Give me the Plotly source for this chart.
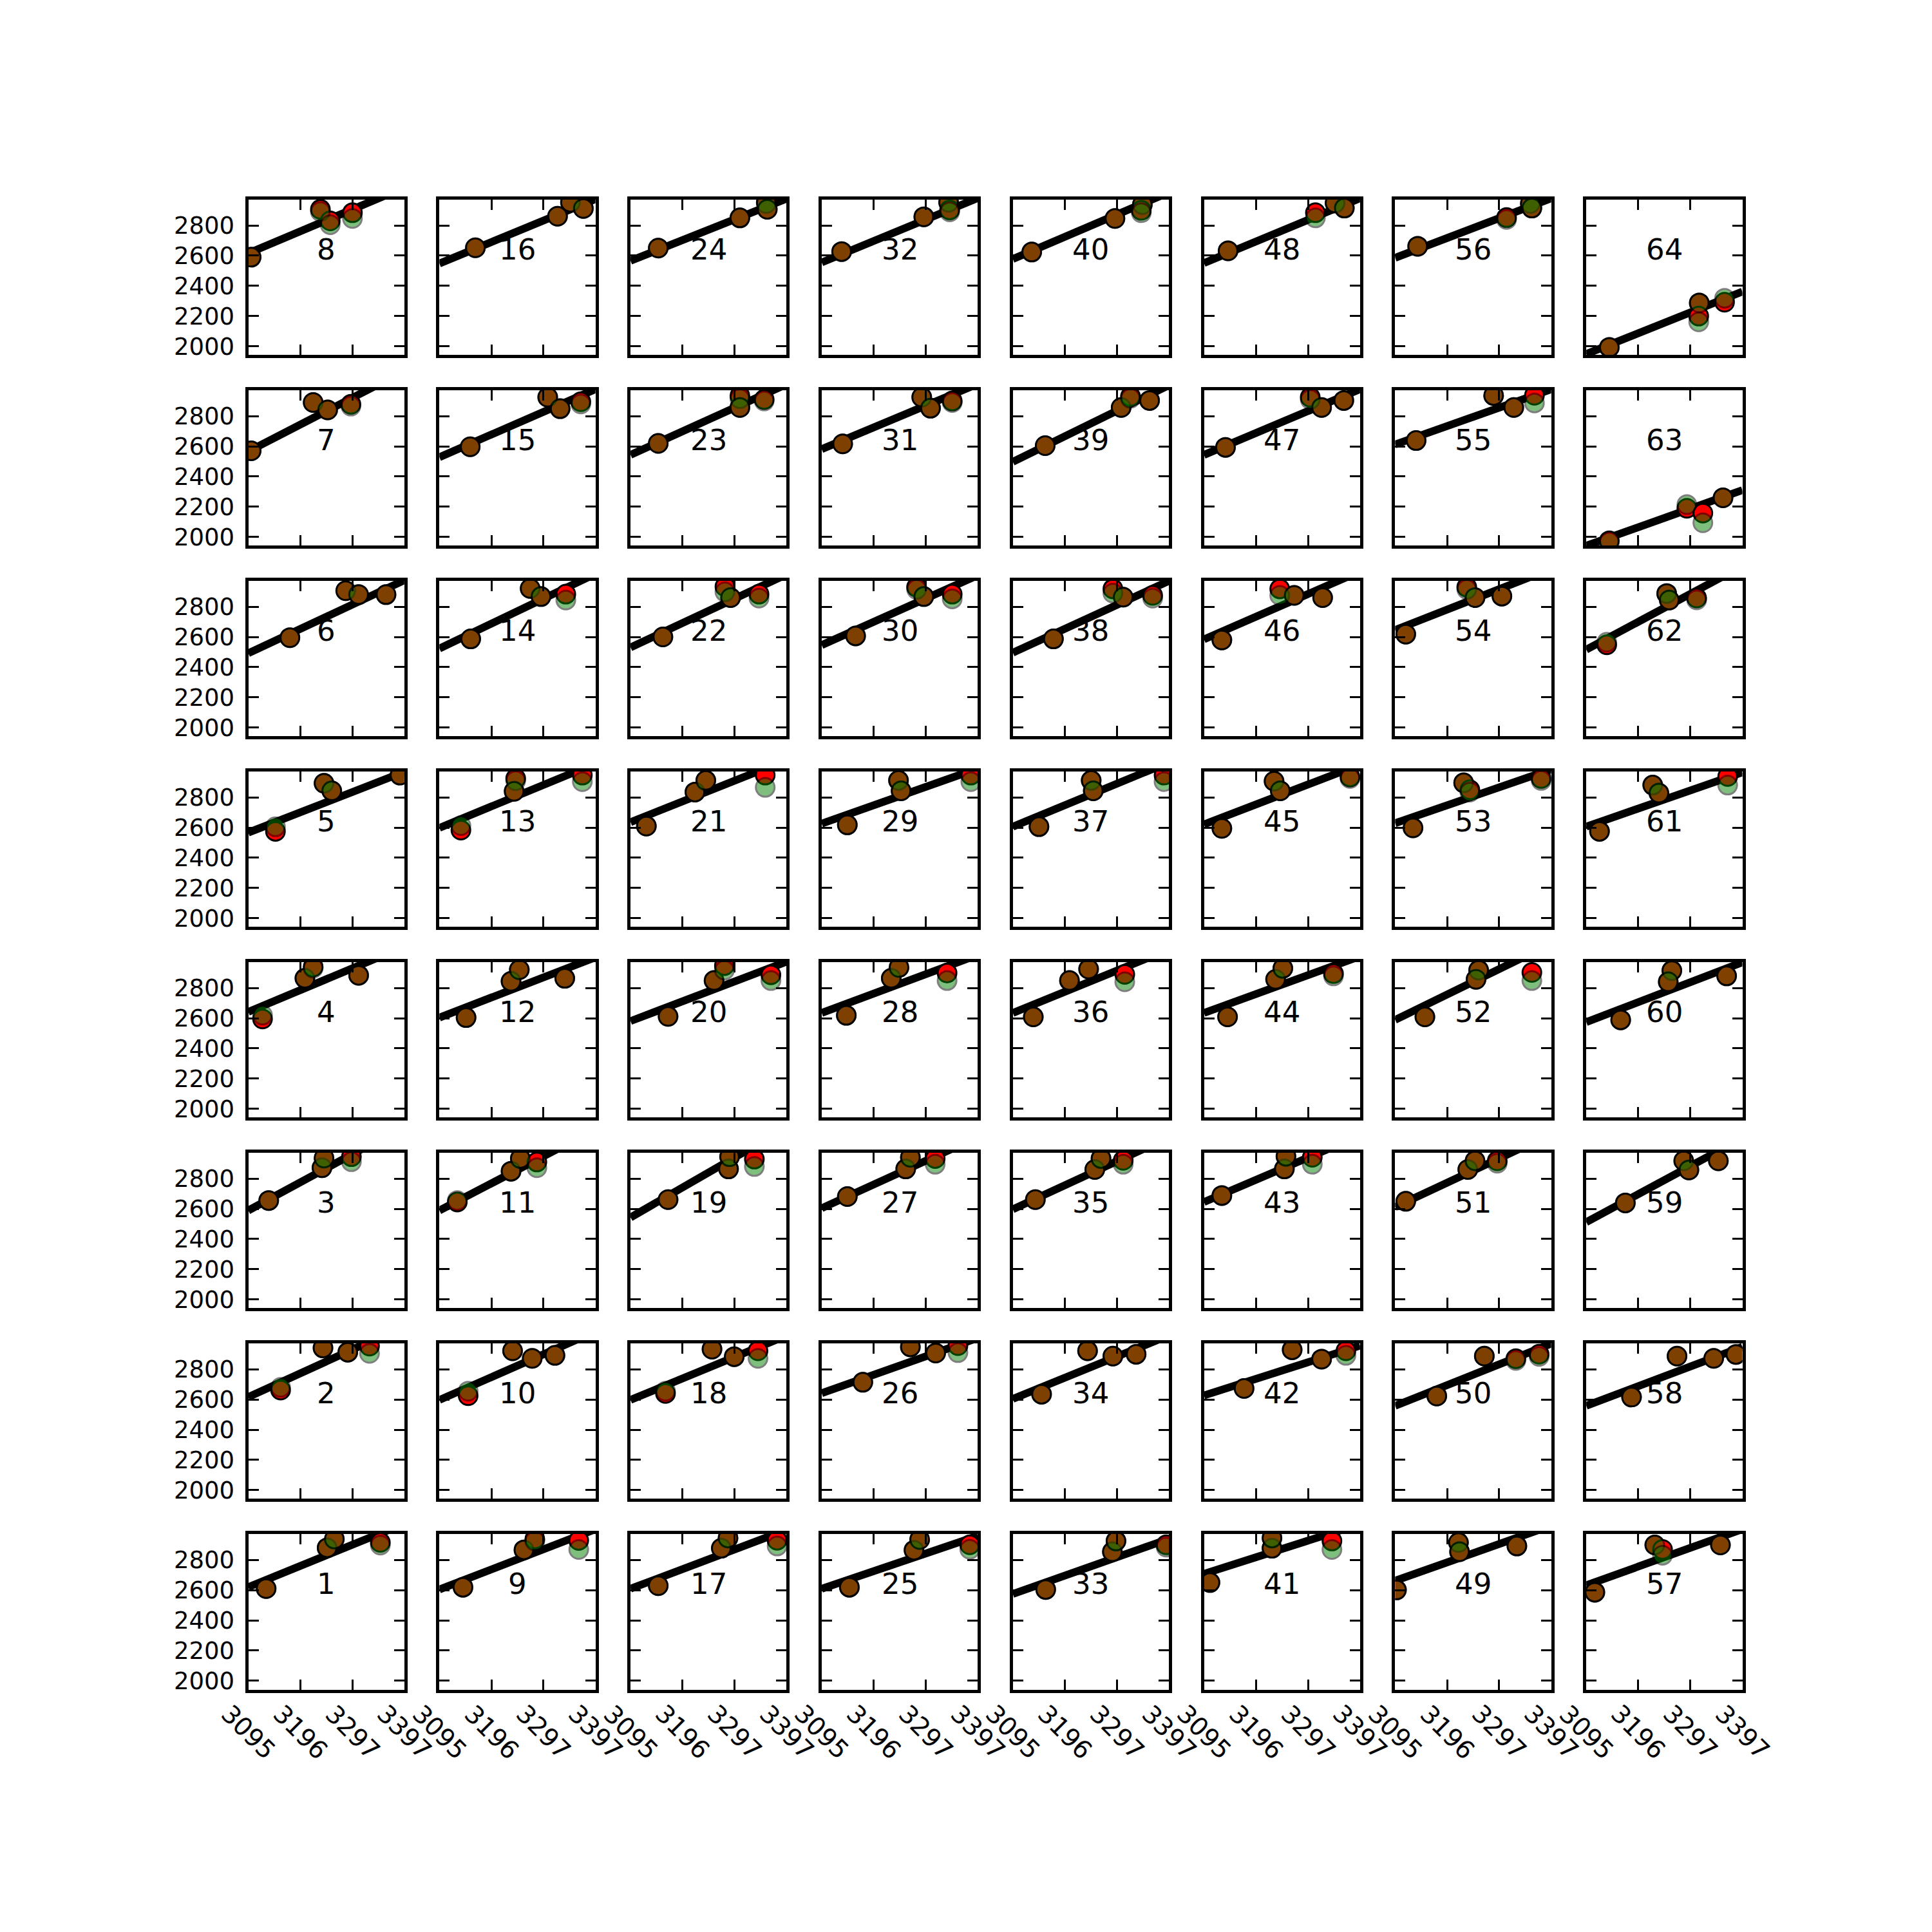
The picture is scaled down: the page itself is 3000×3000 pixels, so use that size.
import plotly.graph_objects as go

# ---------------- data ----------------
X_RANGE = [3095.4, 3397.4]
Y_RANGE = [1942, 2972]
X_TICKS = [3095.4, 3196.07, 3296.73, 3397.4]
X_TICKTEXT = ["3095", "3196", "3297", "3397"]
Y_TICKS = [2000, 2200, 2400, 2600, 2800]
Y_TICKTEXT = ["2000", "2200", "2400", "2600", "2800"]
PANEL_LABELS = [str(i) for i in range(1, 65)]

X_POS = [
    [3130, 3248, 3262, 3351], [3158, 3240, 3288, 3330], [3135, 3238, 3242, 3295], [3123, 3205, 3221, 3309],
    [3148, 3242, 3257, 3389], [3176, 3284, 3309, 3362], [3101, 3221, 3249, 3294], [3101, 3235, 3254, 3297],
    [3141, 3259, 3280, 3365], [3151, 3237, 3275, 3319], [3130, 3234, 3252, 3284], [3147, 3234, 3250, 3338],
    [3137, 3243, 3240, 3372], [3156, 3271, 3292, 3340], [3155, 3305, 3329, 3369], [3165, 3324, 3349, 3374],
    [3149, 3271, 3284, 3379], [3163, 3253, 3296, 3342], [3168, 3285, 3287, 3335], [3168, 3257, 3277, 3367],
    [3126, 3220, 3241, 3356], [3158, 3278, 3289, 3344], [3149, 3307, 3307, 3354], [3149, 3307, 3358, 3360],
    [3149, 3274, 3285, 3382], [3175, 3267, 3316, 3359], [3145, 3258, 3267, 3315], [3143, 3230, 3245, 3338],
    [3145, 3244, 3249, 3384], [3161, 3279, 3293, 3348], [3136, 3289, 3306, 3348], [3134, 3293, 3341, 3343],
    [3159, 3288, 3295, 3392], [3151, 3240, 3289, 3334], [3139, 3254, 3266, 3309], [3135, 3205, 3242, 3312],
    [3146, 3247, 3251, 3388], [3174, 3289, 3309, 3366], [3158, 3305, 3323, 3360], [3132, 3293, 3346, 3344],
    [3107, 3227, 3227, 3343], [3173, 3266, 3323, 3370], [3130, 3251, 3254, 3305], [3141, 3234, 3248, 3346],
    [3130, 3231, 3243, 3378], [3130, 3242, 3270, 3325], [3137, 3301, 3323, 3366], [3142, 3311, 3349, 3367],
    [3098, 3218, 3220, 3331], [3176, 3268, 3329, 3374], [3116, 3236, 3250, 3293], [3153, 3257, 3252, 3360],
    [3130, 3228, 3240, 3378], [3116, 3234, 3250, 3302], [3136, 3286, 3325, 3365], [3139, 3311, 3357, 3360],
    [3112, 3228, 3243, 3355], [3183, 3271, 3342, 3385], [3171, 3284, 3294, 3351], [3162, 3261, 3254, 3367],
    [3121, 3224, 3236, 3369], [3135, 3251, 3256, 3309], [3140, 3290, 3321, 3360], [3140, 3314, 3313, 3363],
]

RED_Y = [
    [2610, 2880, 2938, 2916], [2662, 2941, 2913, 2953], [2655, 2872, 2936, 2945], [2595, 2864, 2940, 2884],
    [2575, 2893, 2843, 2947], [2595, 2906, 2880, 2880], [2570, 2890, 2841, 2878], [2590, 2907, 2830, 2884],
    [2619, 2866, 2938, 2929], [2625, 2922, 2872, 2892], [2645, 2849, 2933, 2910], [2604, 2844, 2921, 2864],
    [2583, 2925, 2840, 2947], [2587, 2921, 2867, 2883], [2597, 2925, 2849, 2895], [2652, 2861, 2953, 2912],
    [2629, 2877, 2945, 2930], [2640, 2933, 2883, 2922], [2661, 2864, 2945, 2929], [2612, 2849, 2948, 2887],
    [2610, 2835, 2912, 2947], [2600, 2933, 2860, 2883], [2619, 2935, 2857, 2910], [2650, 2850, 2953, 2907],
    [2619, 2864, 2935, 2900], [2714, 2948, 2907, 2956], [2681, 2864, 2941, 2933], [2619, 2864, 2936, 2899],
    [2618, 2912, 2843, 2947], [2607, 2930, 2867, 2883], [2616, 2925, 2852, 2900], [2627, 2857, 2953, 2903],
    [2604, 2854, 2925, 2900], [2635, 2922, 2887, 2899], [2661, 2860, 2933, 2921], [2609, 2849, 2925, 2890],
    [2606, 2912, 2843, 2947], [2587, 2918, 2863, 2875], [2604, 2857, 2930, 2903], [2624, 2846, 2938, 2900],
    [2650, 2877, 2945, 2925], [2673, 2929, 2867, 2922], [2688, 2864, 2948, 2941], [2609, 2857, 2930, 2895],
    [2595, 2907, 2843, 2935], [2580, 2918, 2875, 2860], [2593, 2925, 2857, 2903], [2632, 2884, 2948, 2915],
    [2601, 2915, 2854, 2892], [2623, 2887, 2870, 2900], [2650, 2860, 2918, 2918], [2609, 2918, 2857, 2903],
    [2598, 2896, 2850, 2925], [2618, 2930, 2860, 2870], [2638, 2936, 2857, 2938], [2662, 2852, 2945, 2915],
    [2586, 2899, 2869, 2899], [2616, 2887, 2872, 2898], [2639, 2918, 2857, 2918], [2589, 2915, 2841, 2880],
    [2575, 2881, 2828, 2938], [2548, 2887, 2844, 2858], [1975, 2190, 2158, 2259], [1993, 2287, 2200, 2292],
]

GREEN_Y = [
    [2610, 2880, 2938, 2898], [2680, 2941, 2913, 2905], [2655, 2872, 2936, 2912], [2620, 2864, 2932, 2884],
    [2605, 2893, 2843, 2947], [2595, 2906, 2880, 2880], [2570, 2890, 2841, 2866], [2590, 2892, 2805, 2846],
    [2619, 2866, 2925, 2869], [2655, 2922, 2872, 2892], [2655, 2849, 2933, 2872], [2604, 2844, 2921, 2864],
    [2613, 2910, 2840, 2904], [2587, 2921, 2867, 2844], [2597, 2925, 2849, 2880], [2652, 2861, 2953, 2912],
    [2629, 2877, 2945, 2892], [2655, 2933, 2883, 2872], [2661, 2864, 2945, 2880], [2612, 2849, 2918, 2849],
    [2610, 2835, 2912, 2866], [2600, 2898, 2860, 2857], [2619, 2915, 2857, 2900], [2650, 2850, 2945, 2907],
    [2619, 2864, 2935, 2870], [2714, 2948, 2907, 2910], [2681, 2864, 2941, 2895], [2619, 2864, 2936, 2849],
    [2618, 2912, 2843, 2904], [2607, 2915, 2867, 2852], [2616, 2925, 2852, 2890], [2627, 2857, 2953, 2890],
    [2604, 2854, 2925, 2885], [2635, 2922, 2887, 2899], [2661, 2860, 2933, 2895], [2609, 2849, 2925, 2841],
    [2606, 2912, 2843, 2904], [2587, 2890, 2863, 2857], [2604, 2857, 2918, 2903], [2624, 2846, 2938, 2884],
    [2650, 2877, 2945, 2869], [2673, 2929, 2867, 2892], [2688, 2864, 2948, 2895], [2609, 2857, 2930, 2880],
    [2595, 2907, 2843, 2925], [2580, 2875, 2875, 2860], [2593, 2910, 2857, 2903], [2632, 2850, 2948, 2915],
    [2601, 2915, 2854, 2892], [2623, 2887, 2858, 2885], [2650, 2860, 2918, 2902], [2609, 2918, 2857, 2849],
    [2598, 2896, 2835, 2912], [2618, 2915, 2860, 2870], [2638, 2936, 2857, 2887], [2662, 2840, 2945, 2915],
    [2586, 2899, 2831, 2899], [2616, 2887, 2872, 2898], [2639, 2918, 2857, 2918], [2589, 2915, 2841, 2880],
    [2575, 2881, 2828, 2881], [2565, 2887, 2844, 2845], [1966, 2214, 2094, 2259], [1993, 2287, 2162, 2318],
]

# fitted line: value at left edge and right edge of the x range
LINE_LEFT = [
    2620, 2616, 2589, 2642, 2567, 2492, 2566, 2616,
    2604, 2597, 2589, 2604, 2598, 2523, 2528, 2548,
    2609, 2597, 2543, 2581, 2636, 2531, 2543, 2566,
    2609, 2642, 2604, 2635, 2626, 2546, 2581, 2555,
    2574, 2604, 2597, 2635, 2606, 2496, 2497, 2578,
    2708, 2627, 2645, 2635, 2621, 2584, 2543, 2551,
    2662, 2558, 2612, 2589, 2629, 2646, 2612, 2586,
    2632, 2558, 2512, 2574, 2606, 2516, 1942, 1949,
]
LINE_RIGHT = [
    3040, 3087, 3148, 3074, 2969, 2975, 3098, 3051,
    3003, 3050, 3127, 3003, 3024, 3018, 2978, 2974,
    2999, 3023, 3138, 2974, 3047, 3014, 3011, 2977,
    2959, 3007, 3075, 3019, 2991, 3008, 3013, 2981,
    2939, 3024, 3074, 3055, 3032, 2970, 3004, 3019,
    3037, 2956, 3086, 3010, 3017, 3034, 2978, 2980,
    3027, 2969, 3095, 3093, 2985, 3051, 2977, 2979,
    3003, 2948, 3068, 2970, 2965, 3069, 2310, 2362,
]

# ---------------- layout geometry (pixels of a 3000x3000 canvas) ----------------
W = H = 3000
LEFT, TOP, SPAN = 375, 300, 2325
PANEL = SPAN / 9.4
PITCH = PANEL * 1.2
FRAME = 5
INSET = FRAME / 2
FONT = "DejaVu Sans"

fig = go.Figure()
layout = dict(
    width=W, height=H, autosize=False,
    margin=dict(l=0, r=0, t=0, b=0),
    paper_bgcolor="white", plot_bgcolor="white",
    showlegend=False,
    font=dict(family=FONT, color="black", size=38),
)
annotations = []

for k in range(1, 65):
    i = k - 1
    col = i // 8
    row_from_bottom = i % 8
    row = 7 - row_from_bottom
    px0 = LEFT + col * PITCH
    py0 = TOP + row * PITCH
    xd = [(px0 + INSET) / W, (px0 + PANEL - INSET) / W]
    yd = [1 - (py0 + PANEL - INSET) / H, 1 - (py0 + INSET) / H]
    sfx = "" if k == 1 else str(k)
    xa, ya = "x" + sfx, "y" + sfx

    fig.add_trace(go.Scatter(
        x=X_RANGE, y=[LINE_LEFT[i], LINE_RIGHT[i]], mode="lines",
        line=dict(color="black", width=12), xaxis=xa, yaxis=ya, hoverinfo="skip"))
    fig.add_trace(go.Scatter(
        x=X_POS[i], y=RED_Y[i], mode="markers",
        marker=dict(color="red", size=29, line=dict(color="black", width=3)),
        xaxis=xa, yaxis=ya))
    fig.add_trace(go.Scatter(
        x=X_POS[i], y=GREEN_Y[i], mode="markers",
        marker=dict(color="#008000", size=29, opacity=0.5, line=dict(color="black", width=3)),
        xaxis=xa, yaxis=ya))

    axis_common = dict(
        showline=True, linecolor="black", linewidth=FRAME, mirror="ticks",
        ticks="inside", ticklen=16, tickwidth=3, tickcolor="black",
        showgrid=False, zeroline=False, fixedrange=True,
    )
    layout["xaxis" + sfx] = dict(
        axis_common, domain=xd, range=X_RANGE, anchor=ya,
        tickmode="array", tickvals=X_TICKS, ticktext=X_TICKTEXT,
        showticklabels=False,
    )
    layout["yaxis" + sfx] = dict(
        axis_common, domain=yd, range=Y_RANGE, anchor=xa,
        tickmode="array", tickvals=Y_TICKS, ticktext=Y_TICKTEXT,
        showticklabels=(col == 0), tickfont=dict(size=37, family=FONT),
        ticklabelstandoff=9,
    )

    annotations.append(dict(
        text=PANEL_LABELS[i], xref=xa + " domain", yref=ya + " domain",
        x=0.5, y=0.68, showarrow=False, xanchor="center", yanchor="middle",
        font=dict(size=45, family=FONT, color="black")))

    if row_from_bottom == 0:
        for tv, tt in zip(X_TICKS, X_TICKTEXT):
            annotations.append(dict(
                text=tt, xref=xa, yref="paper", x=tv, y=1 - 2689 / H,
                showarrow=False, textangle=45, xanchor="center", yanchor="middle",
                font=dict(size=39, family=FONT, color="black")))

layout["annotations"] = annotations
fig.update_layout(**layout)
fig.write_html("out.html")
